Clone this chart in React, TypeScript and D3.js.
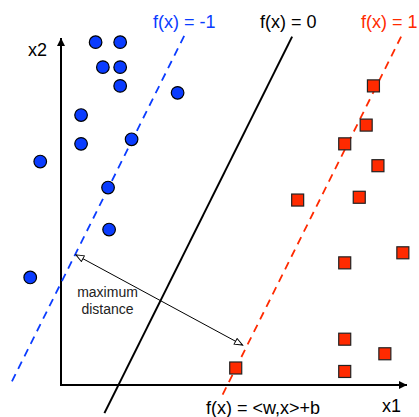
import React from "react";
import * as d3 from "d3";

// ---- data (in feature-space units) ----
const classAX1 = [10.0, 17.1, 12.1, 17.1, 17.1, 33.7, 5.8, 5.8, 20.4, -6.0, 13.6, 13.9, -8.9];
const classAX2 = [98.8, 98.8, 91.6, 91.6, 86.2, 84.2, 77.8, 69.5, 70.8, 64.4, 56.9, 44.8, 31.0];
const classBX1 = [90.3, 88.2, 82.0, 91.6, 68.4, 86.2, 82.0, 98.8, 82.0, 93.6, 82.0, 50.5];
const classBX2 = [86.2, 74.9, 69.5, 63.2, 53.3, 54.1, 35.2, 38.1, 13.2, 9.0, 3.9, 4.9];

// lines x2 = 2 * (x1 - offset)
const lineLabels = ["f(x) = -1", "f(x) = 0", "f(x) = 1"];
const lineOffsets = [-14.7, 16.6, 48.1];
const lineTop = [100.6, 100.4, 100.4];
const lineBottom = [0.3, -8.1, -4.3];
const lineSlope = 2;

// margin arrow endpoints
const arrowX1 = [4.3, 52.5];
const arrowX2 = [37.5, 11.5];

const W = 419;
const H = 417;

const BLUE = "#0a3cff";
const RED = "#ff2a00";
const lineColors = [BLUE, "#000000", RED];
const lineDash = ["8,6", null, "8,6"];

export default function App() {
  const x = d3.scaleLinear().domain([0, 100]).range([61, 407]);
  const y = d3.scaleLinear().domain([0, 100]).range([385, 38]);

  const font = "Helvetica, 'Liberation Sans', Arial, sans-serif";

  const lineGen = d3
    .line<[number, number]>()
    .x((d) => x(d[0]))
    .y((d) => y(d[1]));

  return (
    <svg
      width={W}
      height={H}
      style={{ position: "absolute", left: 0, top: 0, background: "#fff" }}
      fontFamily={font}
    >
      <defs>
        <marker id="axisHead" viewBox="0 0 10 10" refX="10" refY="5" markerWidth="10" markerHeight="8" markerUnits="userSpaceOnUse" orient="auto">
          <path d="M0,0 L10,5 L0,10 Z" fill="#000" />
        </marker>
        <marker id="openHead" viewBox="0 0 12 10" refX="11" refY="5" markerWidth="10" markerHeight="8" markerUnits="userSpaceOnUse" orient="auto-start-reverse">
          <path d="M1,1 L11,5 L1,9 Z" fill="#fff" stroke="#000" strokeWidth="1.2" />
        </marker>
      </defs>

      {/* axes */}
      <line x1={x(0)} y1={y(0)} x2={x(0)} y2={y(0) - (y(0) - 38)} stroke="#000" strokeWidth={2} markerEnd="url(#axisHead)" />
      <line x1={x(0) - 1} y1={y(0)} x2={407} y2={y(0)} stroke="#000" strokeWidth={2} markerEnd="url(#axisHead)" />

      {/* boundary lines */}
      {lineOffsets.map((off, i) => {
        const pts: [number, number][] = [
          [off + lineTop[i] / lineSlope, lineTop[i]],
          [off + lineBottom[i] / lineSlope, lineBottom[i]],
        ];
        return (
          <path
            key={i}
            d={lineGen(pts) || ""}
            fill="none"
            stroke={lineColors[i]}
            strokeWidth={i === 1 ? 2 : 1.8}
            strokeDasharray={lineDash[i] || undefined}
          />
        );
      })}

      {/* margin arrow */}
      <line
        x1={x(arrowX1[0])}
        y1={y(arrowX2[0])}
        x2={x(arrowX1[1])}
        y2={y(arrowX2[1])}
        stroke="#000"
        strokeWidth={1}
        markerStart="url(#openHead)"
        markerEnd="url(#openHead)"
      />

      {/* points */}
      {classAX1.map((v, i) => (
        <circle key={"a" + i} cx={x(v)} cy={y(classAX2[i])} r={6.3} fill={BLUE} stroke="#000" strokeWidth={1.2} />
      ))}
      {classBX1.map((v, i) => (
        <rect key={"b" + i} x={x(v) - 6} y={y(classBX2[i]) - 6} width={12} height={12} fill={RED} stroke="#222" strokeWidth={1.2} />
      ))}

      {/* labels */}
      <text x={153} y={27.5} fontSize={18} fill={BLUE}>{lineLabels[0]}</text>
      <text x={260} y={27.5} fontSize={18} fill="#000">{lineLabels[1]}</text>
      <text x={361} y={27.5} fontSize={18} fill={RED}>{lineLabels[2]}</text>
      <text x={28} y={56} fontSize={18} fill="#000">x2</text>
      <text x={382} y={412} fontSize={18} fill="#000">x1</text>
      <text x={206} y={414} fontSize={18} fill="#000">{"f(x) = <w,x>+b"}</text>
      <text x={107.5} y={297} fontSize={14} textAnchor="middle" fill="#222">maximum</text>
      <text x={107.5} y={314} fontSize={14} textAnchor="middle" fill="#222">distance</text>
    </svg>
  );
}
